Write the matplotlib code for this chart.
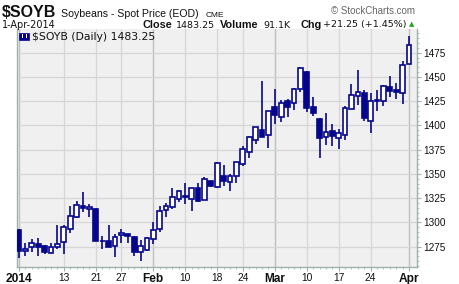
import matplotlib.pyplot as plt
import numpy as np
from matplotlib.patches import Rectangle
from matplotlib.ticker import MultipleLocator

# daily OHLC, trading days 2-Jan-2014 .. 1-Apr-2014
opens = [1292, 1270, 1274.5, 1277.5, 1275.5, 1268, 1274.5, 1279.5, 1293, 1305.5,
         1316.5, 1313.5, 1314, 1281, 1281, 1276, 1286.5, 1288, 1284.5, 1269,
         1271.5, 1283, 1293, 1312.5, 1315.5, 1324, 1327.5, 1324, 1335, 1323,
         1342.5, 1337, 1348, 1341.5, 1347.5, 1360, 1373, 1385.5, 1395.5, 1390,
         1419, 1408.5, 1425, 1423, 1437.5, 1455, 1419, 1406.5, 1388.5, 1394,
         1387.5, 1390, 1416.5, 1430, 1433, 1404.5, 1425.5, 1425.5, 1439.5, 1436.5,
         1433, 1463]
highs = [1293, 1278.5, 1282.5, 1283.5, 1277, 1278.5, 1297.5, 1297.5, 1317, 1322,
         1331.5, 1319, 1315, 1286, 1297.5, 1288, 1293, 1288, 1285.5, 1282,
         1284.5, 1300.5, 1317, 1320.5, 1335, 1333, 1340.5, 1336, 1340.5, 1347,
         1342.5, 1362, 1359, 1349.5, 1362, 1379, 1389, 1398, 1446, 1414.5,
         1437.5, 1426, 1427.5, 1439, 1460.5, 1456.5, 1429, 1407.5, 1412.5, 1401,
         1396.5, 1420, 1442.5, 1457, 1436.5, 1433, 1436.5, 1441.5, 1451, 1444,
         1466.5, 1492]
lows = [1263, 1265, 1269, 1265.5, 1267.5, 1268, 1272.5, 1267, 1289, 1305,
        1311, 1306, 1281, 1272.5, 1275, 1264, 1279, 1278.5, 1265.5, 1260.5,
        1271, 1278, 1290.5, 1305.5, 1314, 1321, 1318.5, 1312, 1321.5, 1323,
        1337, 1336, 1338, 1332, 1341, 1358.5, 1366, 1381, 1388.5, 1377,
        1402, 1404, 1409, 1416, 1435, 1414, 1410, 1366, 1380, 1379,
        1375.5, 1384.5, 1416.5, 1421.5, 1405, 1392.5, 1415, 1420.5, 1429.5, 1427.5,
        1422, 1463]
closes = [1270, 1272.5, 1278.5, 1275, 1269, 1274.5, 1277.5, 1295, 1306.5, 1317.5,
          1315, 1315.5, 1281, 1280.5, 1275, 1284.5, 1289, 1285.5, 1269, 1275.5,
          1283.5, 1292, 1312, 1317, 1326, 1332, 1326, 1336, 1322.5, 1344.5,
          1338, 1361.5, 1343, 1347.5, 1362, 1375.5, 1388, 1398, 1388.5, 1414.5,
          1410.5, 1423, 1419.5, 1437.5, 1459, 1418.5, 1412.5, 1387.5, 1393, 1389.5,
          1392, 1418, 1431, 1435, 1408, 1425.5, 1426, 1440.5, 1436, 1434.5,
          1462, 1483.25]

tick_pos = [0, 7, 12, 16, 21, 26, 31, 35, 40, 45, 50, 55, 61]
tick_labels = ["2014", "13", "21", "27", "Feb", "10", "18", "24", "Mar", "10", "17", "24", "Apr"]
month_labels = ["2014", "Feb", "Mar", "Apr"]

NAVY = "#06068c"
BG = "#f0f0f0"
SPINE = "#9db3a9"
INK = "#111111"

plt.rcParams["font.family"] = ["Liberation Sans", "DejaVu Sans"]

fig = plt.figure(figsize=(4.6, 2.84), dpi=100)
ax = fig.add_axes([16.7 / 460, 1 - 267 / 284, 400 / 460, 238 / 284])
ax.set_facecolor(BG)

o = np.array(opens)
c = np.array(closes)
x = np.arange(len(o))
up = c >= o

ax.vlines(x, lows, highs, color=NAVY, lw=1.2, zorder=3)
bottoms = np.minimum(o, c)
heights = np.maximum(np.abs(c - o), 0.3)
ax.bar(x[up], heights[up], 0.74, bottom=bottoms[up], facecolor="white",
       edgecolor=NAVY, lw=1.2, zorder=4)
ax.bar(x[~up], heights[~up], 0.74, bottom=bottoms[~up], facecolor=NAVY,
       edgecolor=NAVY, lw=1.2, zorder=4)

ax.set_xlim(-0.37, 62.2)
ax.set_ylim(1254, 1499.5)

# grid
ax.yaxis.set_major_locator(MultipleLocator(25))
ax.yaxis.set_minor_locator(MultipleLocator(5))
ax.grid(axis="y", which="major", color="#d6d6d6", lw=0.9, zorder=0)
for p, lab in zip(tick_pos, tick_labels):
    col = "#bfbfbf" if lab in month_labels else "#d6d6d6"
    ax.axvline(p, color=col, lw=1.0 if lab in month_labels else 0.9, zorder=0)

ax.yaxis.tick_right()
ax.tick_params(axis="y", which="major", length=3, width=0.8, color=SPINE,
               labelsize=7.2, pad=1.5, labelcolor=INK)
ax.tick_params(axis="y", which="minor", length=1.5, width=0.6, color=SPINE)

ax.set_xticks(tick_pos)
ax.set_xticks(x, minor=True)
ax.set_xticklabels(tick_labels)
for t in ax.get_xticklabels():
    if t.get_text() in month_labels:
        t.set_fontweight("bold")
        t.set_fontsize(8.6)
    else:
        t.set_fontsize(7.4)
ax.tick_params(axis="x", which="major", length=3, width=0.8, color=SPINE, pad=1,
               labelcolor=INK)
ax.tick_params(axis="x", which="minor", length=1.5, width=0.6, color=SPINE)

for side in ["left", "right", "bottom"]:
    ax.spines[side].set_color(SPINE)
    ax.spines[side].set_linewidth(1.0)
ax.spines["top"].set_visible(False)

# legend line inside the plot
ax.text(0.038, 0.988, "$SOYB (Daily) 1483.25", transform=ax.transAxes,
        fontsize=7.8, family="DejaVu Sans", va="top", ha="left", color=INK)
icon_x = 0.006
ax.add_patch(Rectangle((icon_x, 0.955), 0.024, 0.03, transform=ax.transAxes,
                       facecolor=NAVY, edgecolor=NAVY, lw=0.5, zorder=6))
for dx in (0.007, 0.016):
    ax.add_patch(Rectangle((icon_x + dx, 0.962), 0.003, 0.016, transform=ax.transAxes,
                           facecolor="white", edgecolor="none", zorder=7))

# header
fig.text(2 / 460, 1 - 17 / 284, "$SOYB", fontsize=11.5, fontweight="bold", color=INK)
fig.text(61 / 460, 1 - 17 / 284, "Soybeans - Spot Price (EOD)", fontsize=7.6, color=INK)
fig.text(206 / 460, 1 - 17 / 284, "CME", fontsize=6, color=INK)
fig.text(2 / 460, 1 - 27.5 / 284, "1-Apr-2014", fontsize=7, family="DejaVu Sans", color=INK)
fig.text(143 / 460, 1 - 27.5 / 284, "Close", fontsize=7.8, fontweight="bold", color=INK)
fig.text(176 / 460, 1 - 27.5 / 284, "1483.25", fontsize=6.8, family="DejaVu Sans", color=INK)
fig.text(220 / 460, 1 - 27.5 / 284, "Volume", fontsize=7.8, fontweight="bold", color=INK)
fig.text(263 / 460, 1 - 27.5 / 284, "91.1K", fontsize=6.8, family="DejaVu Sans", color=INK)
fig.text(301 / 460, 1 - 27.5 / 284, "Chg", fontsize=7.8, fontweight="bold", color=INK)
fig.text(323 / 460, 1 - 27.5 / 284, "+21.25 (+1.45%)", fontsize=6.8, family="DejaVu Sans",
         color=INK)
fig.text(412 / 460, 1 - 26.5 / 284, "\u25b2", fontsize=5, color="#1fa81f", ha="center",
         family="DejaVu Sans")
fig.text(415 / 460, 1 - 14 / 284, "\u00a9 StockCharts.com", fontsize=7, color="#666666",
         ha="right")

fig.savefig("out.png", dpi=100, facecolor="white")
